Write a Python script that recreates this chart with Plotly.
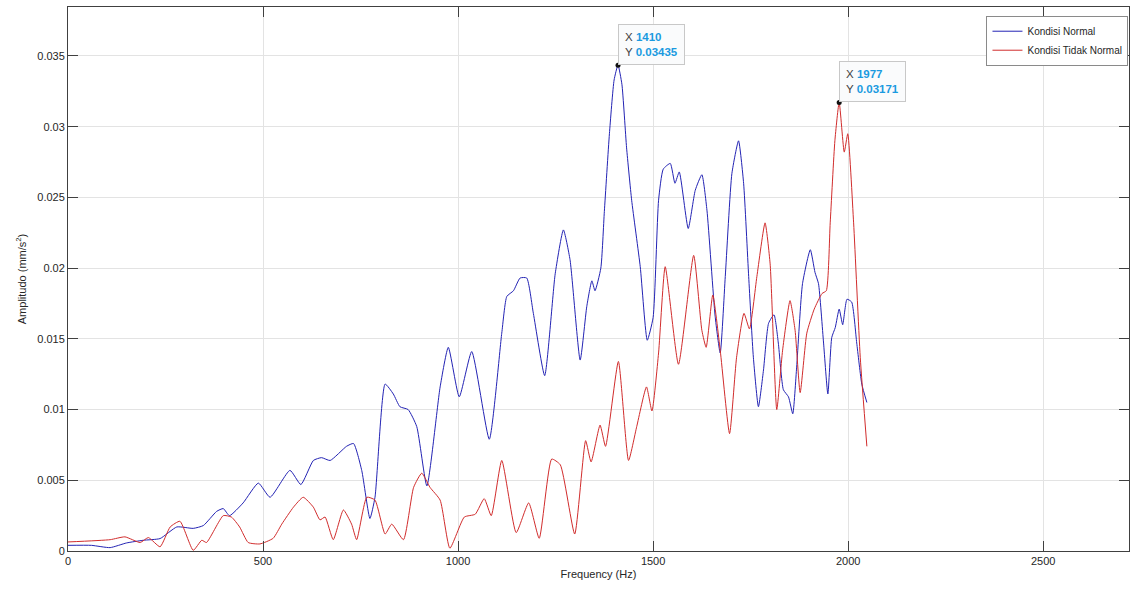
import plotly.graph_objects as go

# ---- data ----
normal_freq = [0, 60, 108, 150, 193, 236, 279, 321, 347, 381, 398, 414, 449, 488, 518, 569, 597,
               629, 650, 672, 714, 732, 753, 774, 787, 813, 834, 851, 872, 894, 920, 954, 975,
               1003, 1035, 1080, 1112, 1125, 1142, 1159, 1176, 1193, 1222, 1249, 1270, 1287,
               1313, 1330, 1343, 1351, 1366, 1375, 1388, 1400, 1410, 1420, 1432, 1445, 1467,
               1485, 1500, 1514, 1526, 1544, 1556, 1567, 1590, 1608, 1625, 1638, 1659, 1672,
               1685, 1702, 1719, 1732, 1745, 1757, 1770, 1783, 1796, 1810, 1821, 1834, 1847,
               1858, 1868, 1883, 1903, 1915, 1924, 1937, 1948, 1958, 1967, 1977, 1986, 1997,
               2009, 2022, 2035, 2048]
normal_amp = [0.0004, 0.0004, 0.00024, 0.00057, 0.00076, 0.00088, 0.0017, 0.0016, 0.0018, 0.0028,
              0.0030, 0.0025, 0.0034, 0.0048, 0.0038, 0.0057, 0.0047, 0.0064, 0.0066, 0.0064,
              0.0074, 0.0076, 0.0057, 0.0023, 0.0038, 0.0118, 0.0111, 0.0102, 0.0100, 0.0088,
              0.0046, 0.0116, 0.0144, 0.0109, 0.0141, 0.0079, 0.0154, 0.0180, 0.0184, 0.0193,
              0.0193, 0.0168, 0.0124, 0.0196, 0.0227, 0.0206, 0.0135, 0.0173, 0.0191, 0.0184,
              0.0200, 0.0240, 0.0295, 0.0333, 0.03435, 0.0330, 0.0285, 0.0248, 0.0201, 0.0149,
              0.0165, 0.0248, 0.0270, 0.0274, 0.0260, 0.0268, 0.0228, 0.0255, 0.0266, 0.0241,
              0.0166, 0.0140, 0.0194, 0.0267, 0.0290, 0.0260, 0.0194, 0.0137, 0.0102, 0.0128,
              0.0161, 0.0167, 0.0147, 0.0114, 0.0109, 0.0097, 0.0130, 0.0189, 0.0213, 0.0197,
              0.0189, 0.0147, 0.0111, 0.0151, 0.0158, 0.0171, 0.0160, 0.0178, 0.0176, 0.0147,
              0.0118, 0.0105]

abnormal_freq = [0, 108, 146, 185, 206, 236, 262, 287, 321, 343, 355, 398, 419, 440, 462, 492,
                 526, 548, 578, 603, 629, 646, 659, 680, 706, 727, 740, 766, 787, 813, 830, 860,
                 886, 907, 928, 954, 979, 1016, 1044, 1067, 1085, 1112, 1149, 1181, 1208, 1240,
                 1262, 1299, 1327, 1341, 1364, 1378, 1411, 1437, 1458, 1483, 1497, 1514, 1531,
                 1565, 1604, 1625, 1636, 1653, 1672, 1696, 1714, 1733, 1747, 1766, 1787, 1800,
                 1817, 1832, 1851, 1864, 1877, 1894, 1913, 1933, 1944, 1954, 1966, 1977, 1990,
                 1999, 2014, 2031, 2048]
abnormal_amp = [0.00064, 0.0008, 0.0010, 0.0006, 0.00095, 0.0003, 0.0017, 0.0021, 0.00005,
                0.00076, 0.0006, 0.0025, 0.0024, 0.0017, 0.0006, 0.0005, 0.0009, 0.0019, 0.0031,
                0.0038, 0.0031, 0.0022, 0.0024, 0.0008, 0.0029, 0.0019, 0.0008, 0.0038, 0.0036,
                0.0012, 0.0019, 0.0008, 0.0045, 0.0055, 0.0045, 0.0036, 0.0002, 0.0024, 0.0026,
                0.0037, 0.0025, 0.0064, 0.0013, 0.0034, 0.0009, 0.0065, 0.0061, 0.0012, 0.0078,
                0.0063, 0.0089, 0.0074, 0.0134, 0.0064, 0.0088, 0.0116, 0.0099, 0.0140, 0.0201,
                0.0132, 0.0209, 0.0156, 0.0144, 0.0181, 0.0142, 0.0083, 0.0137, 0.0168, 0.0157,
                0.0194, 0.0232, 0.0203, 0.0100, 0.0142, 0.0177, 0.0156, 0.0112, 0.0154, 0.0171,
                0.0182, 0.0184, 0.0232, 0.0290, 0.03171, 0.0282, 0.0295, 0.0232, 0.0137, 0.0074]

series_names = ["Kondisi Normal", "Kondisi Tidak Normal"]
datatip_x = [1410, 1977]
datatip_y = [0.03435, 0.03171]
x_ticks = [0, 500, 1000, 1500, 2000, 2500]
y_ticks = [0, 0.005, 0.01, 0.015, 0.02, 0.025, 0.03, 0.035]
y_tick_labels = ["0", "0.005", "0.01", "0.015", "0.02", "0.025", "0.03", "0.035"]

FONT = "Liberation Sans, Arial, sans-serif"
AX = "#404040"

fig = go.Figure()
fig.add_trace(go.Scatter(x=normal_freq, y=normal_amp, mode="lines", name=series_names[0],
                         line=dict(color="#2323b4", width=1, shape="spline", smoothing=0.5)))
fig.add_trace(go.Scatter(x=abnormal_freq, y=abnormal_amp, mode="lines", name=series_names[1],
                         line=dict(color="#d12c2c", width=1, shape="spline", smoothing=0.5)))
fig.add_trace(go.Scatter(x=datatip_x, y=datatip_y, mode="markers", showlegend=False,
                         marker=dict(color="#111111", size=5), hoverinfo="skip"))

for xv, yv in zip(datatip_x, datatip_y):
    fig.add_annotation(
        x=xv, y=yv, xref="x", yref="y", xanchor="left", yanchor="bottom",
        showarrow=False, align="left",
        text=(f"<span style='color:#404040'>X </span><b><span style='color:#1a9ae0'>{xv}</span></b><br>"
              f"<span style='color:#404040'>Y </span><b><span style='color:#1a9ae0'>{yv:.5f}</span></b>"),
        font=dict(family=FONT, size=11.5),
        bgcolor="rgba(250,251,252,0.95)", bordercolor="#c8c8c8", borderwidth=1, borderpad=6,
    )

fig.update_layout(
    width=1132, height=593,
    margin=dict(l=68, r=3, t=7, b=42),
    paper_bgcolor="white", plot_bgcolor="white",
    font=dict(family=FONT, size=11, color="#262626"),
    showlegend=True,
    legend=dict(x=0.9995, y=0.984, xanchor="right", yanchor="top",
                bgcolor="white", bordercolor="#8a8a8a", borderwidth=1,
                font=dict(family=FONT, size=10, color="#262626"),
                itemwidth=30, tracegroupgap=0),
    xaxis=dict(range=[0, 2720], tickvals=x_ticks, ticks="inside", ticklen=10, tickcolor=AX,
               showline=True, linecolor=AX, linewidth=1, mirror="ticks",
               showgrid=True, gridcolor="#e3e3e3", gridwidth=1, zeroline=False,
               tickfont=dict(size=11, color="#262626"),
               title=dict(text="Frequency (Hz)", font=dict(size=11, color="#262626"), standoff=4)),
    yaxis=dict(range=[0, 0.03846], tickvals=y_ticks, ticktext=y_tick_labels, ticks="inside",
               ticklen=10, tickcolor=AX, showline=True, linecolor=AX, linewidth=1, mirror="ticks",
               showgrid=True, gridcolor="#e3e3e3", gridwidth=1, zeroline=False,
               tickfont=dict(size=11, color="#262626"),
               title=dict(text="Amplitudo (mm/s<sup>2</sup>)", font=dict(size=11, color="#262626"),
                          standoff=8)),
)

fig.write_html("out.html", config={"displayModeBar": False},
               post_script="document.body.style.margin='0';")
